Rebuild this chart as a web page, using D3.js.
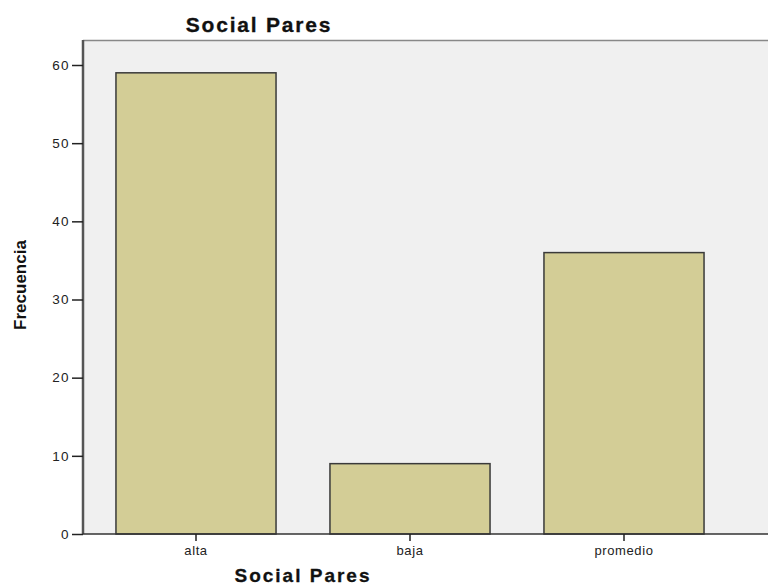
<!DOCTYPE html>
<html><head><meta charset="utf-8">
<script src="https://cdn.jsdelivr.net/npm/d3@7"></script>
<style>body{margin:0;background:#fff}svg{display:block}</style>
</head><body>
<script>
const categories = ["alta", "baja", "promedio"];
const frequencies = [59, 9, 36];
const yTicks = [0, 10, 20, 30, 40, 50, 60];
const chartTitle = "Social Pares";
const xTitle = "Social Pares";
const yTitle = "Frecuencia";

(function () {
const W = 768, H = 586;
const pLeft = 83, pTop = 40, pRight = 768, pBottom = 534;
const FONT = "Liberation Sans, Arial, sans-serif";
const svg = d3.select("body").append("svg").attr("width", W).attr("height", H);

const x = d3.scaleBand().domain(categories).range([89, 731]).paddingInner(0.252).paddingOuter(0.126);
const y = d3.scaleLinear().domain([0, 60]).range([pBottom, 65]);

svg.append("rect").attr("x", pLeft).attr("y", pTop).attr("width", pRight - pLeft).attr("height", pBottom - pTop)
  .attr("fill", "#f0f0f0");
svg.append("line").attr("x1", pLeft).attr("x2", pRight).attr("y1", pTop + 0.5).attr("y2", pTop + 0.5)
  .attr("stroke", "#888").attr("stroke-width", 1.5);

svg.selectAll("rect.bar").data(categories).enter().append("rect").attr("class", "bar")
  .attr("x", d => x(d)).attr("width", x.bandwidth())
  .attr("y", (d, i) => y(frequencies[i])).attr("height", (d, i) => pBottom - y(frequencies[i]))
  .attr("fill", "#d3cd96").attr("stroke", "#3a3a3a").attr("stroke-width", 1.5);

const ya = svg.append("g").attr("transform", `translate(${pLeft},0)`)
  .call(d3.axisLeft(y).tickValues(yTicks).tickSize(11).tickPadding(2).tickFormat(d3.format("d")));
ya.select(".domain").attr("d", `M0,${pTop}V${pBottom}`).attr("stroke", "#555").attr("stroke-width", 2.5);
ya.selectAll(".tick line").attr("stroke", "#222").attr("stroke-width", 1.5);
ya.selectAll(".tick text").attr("font-family", FONT).attr("font-size", 13.5).attr("letter-spacing", 1.4)
  .attr("fill", "#222");

const xa = svg.append("g").attr("transform", `translate(0,${pBottom})`)
  .call(d3.axisBottom(x).tickSize(7).tickPadding(5));
xa.select(".domain").attr("d", `M${pLeft},0H${pRight}`).attr("stroke", "#333").attr("stroke-width", 1.5);
xa.selectAll(".tick line").attr("stroke", "#222").attr("stroke-width", 1.5);
xa.selectAll(".tick text").attr("font-family", FONT).attr("font-size", 13).attr("letter-spacing", 0.6)
  .attr("fill", "#222");

svg.append("text").attr("x", 259).attr("y", 32).attr("text-anchor", "middle")
  .attr("font-family", FONT).attr("font-weight", "bold").attr("font-size", 21)
  .attr("letter-spacing", 1.8).attr("stroke", "#111").attr("stroke-width", 0.3)
  .attr("fill", "#111").text(chartTitle);
svg.append("text").attr("x", 303).attr("y", 582).attr("text-anchor", "middle")
  .attr("font-family", FONT).attr("font-weight", "bold").attr("font-size", 19)
  .attr("letter-spacing", 2).attr("stroke", "#111").attr("stroke-width", 0.3)
  .attr("fill", "#111").text(xTitle);
svg.append("text").attr("transform", "translate(26,285) rotate(-90)").attr("text-anchor", "middle")
  .attr("font-family", FONT).attr("font-weight", "bold").attr("font-size", 17)
  .attr("fill", "#111").text(yTitle);
})();
</script>
</body></html>
